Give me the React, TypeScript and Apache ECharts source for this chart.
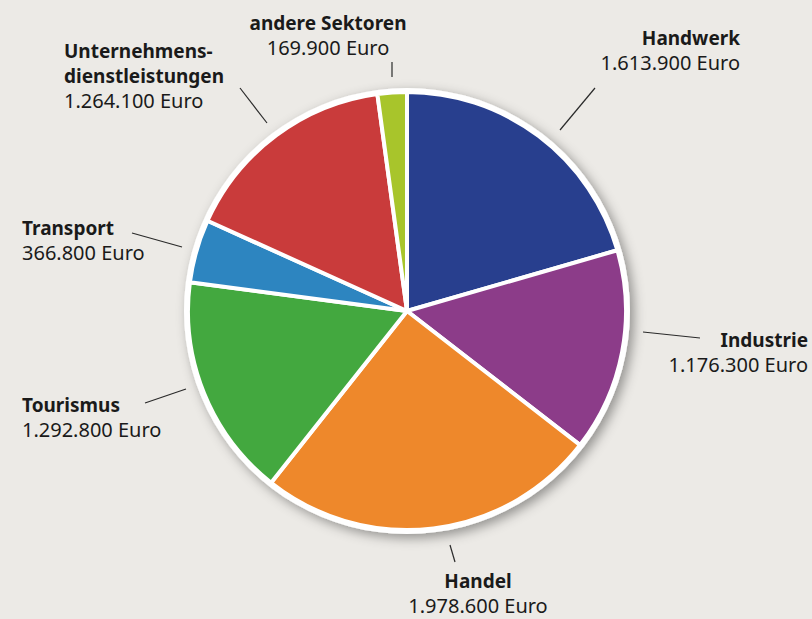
import { useEffect, useRef } from 'react';
import * as echarts from 'echarts';

const sectors = [
  'Handwerk',
  'Industrie',
  'Handel',
  'Tourismus',
  'Transport',
  'Unternehmens-\ndienstleistungen',
  'andere Sektoren',
];
const values = [1613900, 1176300, 1978600, 1292800, 366800, 1264100, 169900];
const colors = ['#283f8e', '#8c3c89', '#ee882b', '#43a83f', '#2d85c0', '#c93b3b', '#a8c52b'];

// label placement (chart pixels)
const labelAnchors: { x: number; y: number; align: string; line: number[][] }[] = [
  { x: 740, y: 25, align: 'right', line: [[595, 88], [560, 130]] },
  { x: 808, y: 327, align: 'right', line: [[643, 332], [700, 338]] },
  { x: 478, y: 568, align: 'center', line: [[450, 545], [455, 562]] },
  { x: 22, y: 392, align: 'left', line: [[145, 403], [186, 389]] },
  { x: 22, y: 215, align: 'left', line: [[132, 233], [182, 247]] },
  { x: 64, y: 38, align: 'left', line: [[240, 88], [267, 123]] },
  { x: 328, y: 10, align: 'center', line: [[392, 62], [392, 77]] },
];

const fmt = (v: number) => String(v).replace(/\B(?=(\d{3})+(?!\d))/g, '.');

export default function App() {
  const ref = useRef<HTMLDivElement>(null);
  useEffect(() => {
    if (!ref.current) return;
    const chart = echarts.init(ref.current, undefined, { renderer: 'svg' });
    const center = [407, 311];
    chart.setOption({
      animation: false,
      backgroundColor: '#eceae6',
      series: [
        {
          type: 'pie',
          silent: true,
          center,
          radius: 223,
          label: { show: false },
          labelLine: { show: false },
          itemStyle: {
            color: '#ffffff',
            shadowBlur: 12,
            shadowOffsetX: 4,
            shadowOffsetY: 4,
            shadowColor: 'rgba(0,0,0,0.38)',
          },
          data: [{ value: 1, name: 'bg' }],
        },
        {
          type: 'pie',
          center,
          radius: 219,
          startAngle: 90,
          clockwise: true,
          avoidLabelOverlap: false,
          itemStyle: { borderColor: '#ffffff', borderWidth: 4 },
          label: {
            show: true,
            position: 'outside',
            overflow: 'none',
            formatter: (p: any) => `{n|${p.name}}\n{v|${fmt(p.value)} Euro}`,
            rich: {
              n: {
                fontFamily: 'Noto Sans',
                fontWeight: 'bold',
                fontSize: 19,
                lineHeight: 25,
                color: '#1a1a1a',
              },
              v: {
                fontFamily: 'Noto Sans',
                fontSize: 20,
                lineHeight: 25,
                color: '#1a1a1a',
              },
            },
          },
          labelLine: { show: true, lineStyle: { color: '#2a2a2a', width: 1.2 } },
          labelLayout: (params: any) => {
            const a = labelAnchors[params.dataIndex];
            return {
              x: a.x,
              y: a.y,
              align: a.align,
              verticalAlign: 'top',
              labelLinePoints: a.line,
            };
          },
          data: sectors.map((s, i) => ({
            name: s,
            value: values[i],
            itemStyle: { color: colors[i] },
          })),
        },
      ],
    });
    return () => chart.dispose();
  }, []);
  return (
    <div
      ref={ref}
      style={{ position: 'fixed', left: 0, top: 0, width: 812, height: 619 }}
    />
  );
}
